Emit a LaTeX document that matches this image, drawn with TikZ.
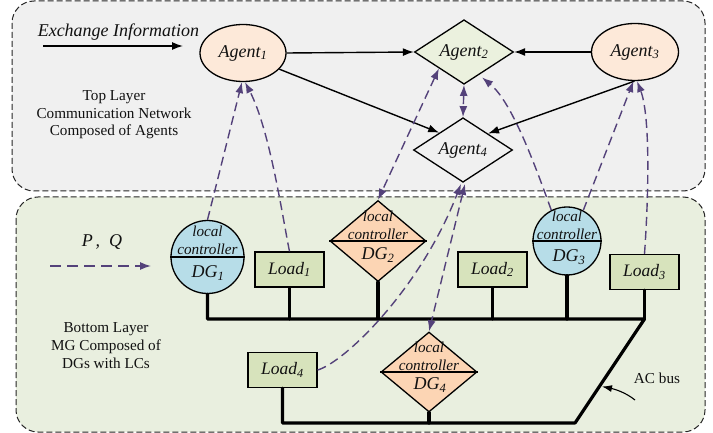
\documentclass[tikz,border=0pt]{standalone}
\usepackage{fontspec}
\setmainfont{Liberation Serif}
\usetikzlibrary{shapes.geometric,arrows.meta,calc}
\definecolor{linkcol}{HTML}{54427A}
\definecolor{topfill}{HTML}{F0F0F0}
\definecolor{botfill}{HTML}{E9EFDF}
\definecolor{loadfill}{HTML}{D7E3BC}
\definecolor{agentfill}{HTML}{FDE9D9}
\definecolor{dgcirc}{HTML}{B7DDE8}
\definecolor{dgdiam}{HTML}{FCD5B4}
\definecolor{agdiam}{HTML}{EBF1DE}
\definecolor{inkcol}{HTML}{111111}
\newcommand{\fs}[1]{\fontsize{#1}{#1}\selectfont}
\tikzset{
  x=1pt,y=-1pt,
  panel/.style={draw=black!85,line width=1pt,dash pattern=on 6pt off 3pt,rounded corners=22pt},
  txt/.style={inner sep=0,text=inkcol,font=\fs{15.2},align=center},
  agentell/.style={ellipse,draw=black,line width=1.3pt,inner sep=0,fill=agentfill,font=\fs{18}\itshape,text=inkcol},
  agentdia/.style={diamond,draw=black,line width=1.3pt,inner sep=0,font=\fs{18}\itshape,text=inkcol},
  loadbox/.style={rectangle,draw=black,line width=1.3pt,fill=loadfill,minimum width=69pt,minimum height=35pt,inner sep=0,font=\fs{17.5}\itshape,text=inkcol},
  dgcircle/.style={circle,draw=black,line width=1.3pt,fill=dgcirc,inner sep=0},
  dgdiamond/.style={diamond,draw=black,line width=1.3pt,fill=dgdiam,inner sep=0,minimum width=96pt,minimum height=81pt},
  lclabel/.style={inner sep=0,text=inkcol,font=\fs{15.2}\itshape,align=center},
  dglabel/.style={inner sep=0,text=inkcol,font=\fs{18}\itshape},
  divider/.style={draw=black,line width=1.3pt},
  link/.style={draw=black,line width=1.4pt,-{Latex[length=11pt,width=8pt]}},
  dlink/.style={draw=linkcol,line width=1.4pt,dash pattern=on 9pt off 5pt,-{Latex[length=11pt,width=8pt]}},
  ddlink/.style={dlink,{Latex[length=11pt,width=8pt]}-{Latex[length=11pt,width=8pt]}},
  bus/.style={draw=black,line width=3.2pt,line cap=round,line join=round},
}
\begin{document}
\begin{tikzpicture}
\path[use as bounding box] (0,0) rectangle (713,433);
\draw[panel,fill=topfill] (12,1) rectangle (705,191);
\draw[panel,fill=botfill] (16,197) rectangle (705,432);

% agents
\node[agentell,minimum width=86pt,minimum height=57pt] (agent1) at (243,53) {Agent\textsubscript{1}};
\node[agentdia,fill=agdiam,minimum width=99pt,minimum height=49pt] (agent2) at (464,52) {Agent\textsubscript{2}};
\node[agentell,minimum width=87pt,minimum height=57pt] (agent3) at (635,52) {Agent\textsubscript{3}};
\node[agentdia,minimum width=99pt,minimum height=49pt] (agent4) at (463,150) {Agent\textsubscript{4}};

% texts
\node[inner sep=0,text=inkcol,font=\fs{18}\itshape] (exch) at (118.5,32.5) {Exchange Information};
\coordinate (exchA) at (43,46);
\coordinate (exchB) at (183,46);
\draw[link] (exchA) -- (exchB);
\node[txt] (toplab) at (114,115) {Top Layer\\[2.4pt]Communication Network\\[2.4pt]Composed of Agents};
\node[txt] (botlab) at (106,345.5) {Bottom Layer\\[2.8pt]MG Composed of\\[2.8pt]DGs with LCs};
\node[inner sep=0,text=inkcol,font=\fs{18}\itshape] (pq) at (102,242) {P\,,\ \ Q};
\coordinate (pqA) at (50,266);
\coordinate (pqB) at (151,266);
\draw[dlink,dash pattern=on 11pt off 6pt] (pqA) -- (pqB);
\node[txt] (acbus) at (657,378) {AC bus};

% loads
\node[loadbox] (load1) at (289.5,269.5) {Load\textsubscript{1}};
\node[loadbox] (load2) at (492.5,269.5) {Load\textsubscript{2}};
\node[loadbox] (load3) at (644.5,272) {Load\textsubscript{3}};
\node[loadbox] (load4) at (282.5,370) {Load\textsubscript{4}};

% DGs
\node[dgcircle,minimum size=73pt] (dg1) at (207.5,257) {};
\draw[divider] (dg1.west) -- (dg1.east);
\node[lclabel] (lc1) at (207.5,240.5) {local\\[2.5pt]controller};
\node[dglabel] (dgt1) at (208,273) {DG\textsubscript{1}};

\node[dgdiamond] (dg2) at (378,241) {};
\draw[divider] (dg2.west) -- (dg2.east);
\node[lclabel] (lc2) at (378,225.5) {local\\[2.5pt]controller};
\node[dglabel] (dgt2) at (378,255) {DG\textsubscript{2}};

\node[dgcircle,minimum size=68pt] (dg3) at (567,241) {};
\draw[divider] (dg3.west) -- (dg3.east);
\node[lclabel] (lc3) at (567,225) {local\\[2.5pt]controller};
\node[dglabel] (dgt3) at (569,257) {DG\textsubscript{3}};

\node[dgdiamond,minimum height=80pt] (dg4) at (429,372) {};
\draw[divider] (dg4.west) -- (dg4.east);
\node[lclabel] (lc4) at (429,356.5) {local\\[2.5pt]controller};
\node[dglabel] (dgt4) at (430,385) {DG\textsubscript{4}};

% bus
\coordinate (busL) at (207.5,319);
\coordinate (busR) at (644.5,319);
\coordinate (busBR) at (575,423);
\coordinate (busBL) at (282.5,423);
\draw[bus] (dg1.south) -- (busL) -- (busR) -- (busBR) -- (busBL) -- (load4.south);
\draw[bus] (load1.south) -- (load1.south |- busL);
\draw[bus] (dg2.south) -- (dg2.south |- busL);
\draw[bus] (load2.south) -- (load2.south |- busL);
\draw[bus] (dg3.south) -- (dg3.south |- busL);
\draw[bus] (load3.south) -- (busR);
\draw[bus] (dg4.south) -- (dg4.south |- busBL);
\coordinate (acA) at (635,400);
\coordinate (acB) at (602,386.5);
\draw[draw=black,line width=1.1pt,-{Latex[length=10pt,width=7pt]}] (acA) .. controls (625,392) and (614,389) .. (acB);

% agent links
\draw[link] (agent1.east) -- (agent2.west);
\draw[link] (agent3.west) -- (agent2.east);
\draw[link] (agent1.-24) -- (agent4.144);
\draw[link] (agent3.-91) -- (agent4.north east);

% dashed links
\draw[dlink] (dg1.north) -- (agent1.-92);
\draw[dlink] (load1.north) .. controls (283,220) and (270,130) .. (agent1.-86);
\draw[ddlink] (agent2.south west) -- (dg2.north);
\draw[ddlink] (agent2.south) -- (agent4.north);
\coordinate (agent2gap) at ($(agent2.south east)+(-7,9)$);
\draw[dlink] (dg3.117) .. controls (535,165) and (512,102) .. (agent2gap);
\draw[dlink] (dg3.62) -- (agent3.-93);
\draw[dlink] (load3.north) .. controls (649,190) and (650,115) .. (agent3.-86);
\coordinate (agent4low) at ($(agent4.south)+(-2,1)$);
\coordinate (agent4high) at ($(agent4.south)+(2,1)$);
\draw[dlink] (load4.east) .. controls (345,362) and (421,288) .. (agent4low);
\draw[ddlink] (agent4high) -- (dg4.north);
\end{tikzpicture}
\end{document}
